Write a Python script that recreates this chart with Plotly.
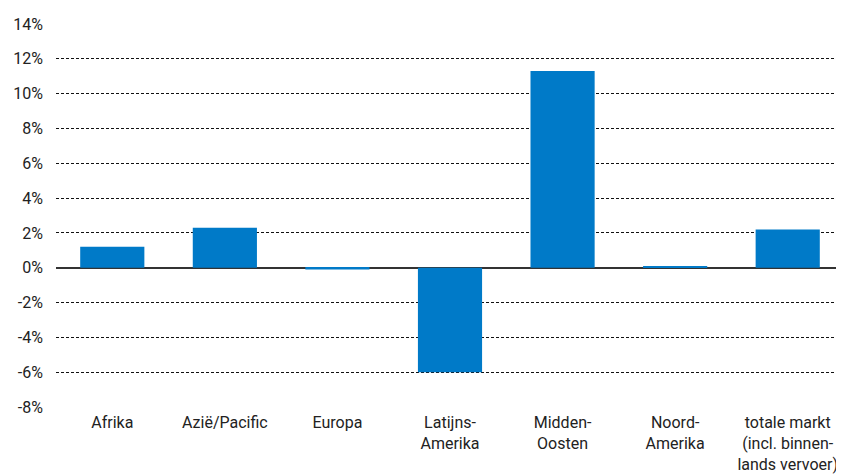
import plotly.graph_objects as go

# Categorieën en waarden (procentuele groei)
regions = ['Afrika', 'Azië/Pacific', 'Europa', 'Latijns-<br>Amerika', 'Midden-<br>Oosten',
           'Noord-<br>Amerika', 'totale markt<br>(incl. binnen-<br>lands vervoer)']
growth = [1.2, 2.3, -0.1, -6.0, 11.3, 0.1, 2.2]
y_ticks = [-8, -6, -4, -2, 0, 2, 4, 6, 8, 10, 12, 14]

fig = go.Figure()

fig.add_trace(go.Bar(
    x=regions,
    y=growth,
    marker=dict(color='rgb(0,122,200)', line=dict(width=0)),
    hovertemplate='%{x}: %{y:.1f}%<extra></extra>',
))

# de pagina heeft 8px body-marge, dus figuur iets kleiner
fig.update_layout(
    width=836, height=467,
    margin=dict(l=48, r=0, t=16, b=68),
    paper_bgcolor='white',
    plot_bgcolor='white',
    showlegend=False,
    bargap=0.43,
    font=dict(family='Roboto, sans-serif', size=16, color='#222'),
    xaxis=dict(
        showgrid=False,
        showline=False,
        ticks='',
        automargin=False,
        ticklabelstandoff=4,
        tickfont=dict(size=16),
    ),
    yaxis=dict(
        range=[-8, 14],
        tickvals=y_ticks,
        ticktext=[f'{v}%' for v in y_ticks],
        showgrid=True,
        gridcolor='#111',
        griddash='3px,2px',
        gridwidth=1,
        zeroline=True,
        zerolinecolor='#333',
        zerolinewidth=2,
        showline=False,
        ticks='',
        automargin=False,
        ticklabelstandoff=12,
        tickfont=dict(size=16),
    ),
)

fig.write_html("out.html")
